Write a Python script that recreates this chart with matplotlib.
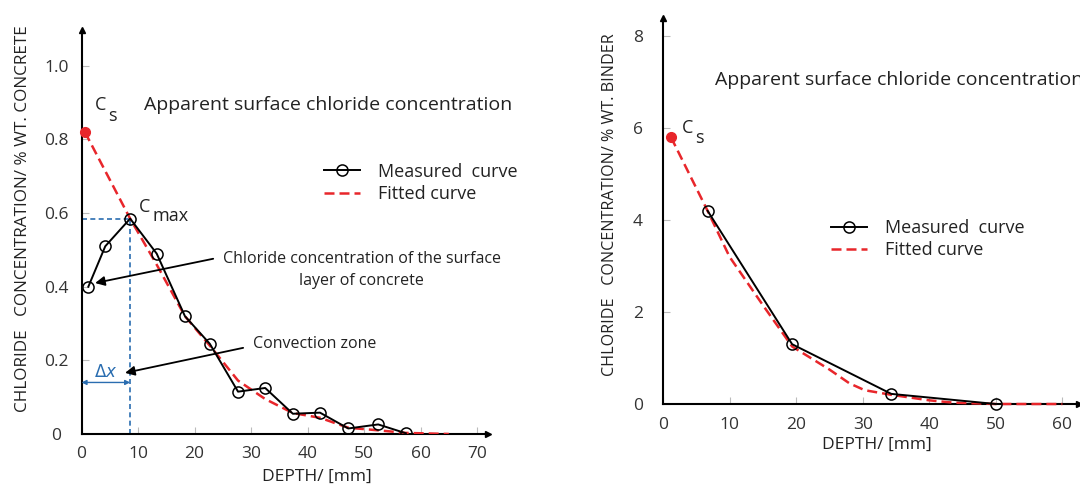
import matplotlib
matplotlib.use("Agg")
import matplotlib.pyplot as plt

plt.rcParams['font.family'] = ['Open Sans', 'DejaVu Sans']

# Datos - perfil en hormigón (izquierda)
meas_depth_l = [1.2, 4.2, 8.6, 13.3, 18.3, 22.7, 27.7, 32.5, 37.4, 42.2, 47.2, 52.5, 57.4]
meas_conc_l = [0.40, 0.51, 0.585, 0.49, 0.32, 0.245, 0.115, 0.125, 0.055, 0.058, 0.015, 0.026, 0.002]
fit_depth_l = [0.6, 8.6, 13.3, 18.3, 22.7, 27.7, 32.5, 37.4, 42.2, 47.2, 52.5, 57.4, 65]
fit_conc_l = [0.82, 0.585, 0.46, 0.32, 0.24, 0.145, 0.095, 0.057, 0.044, 0.017, 0.01, 0.003, 0.0]
cs_l = (0.6, 0.82)
xticks_l = [0, 10, 20, 30, 40, 50, 60, 70]
yticks_l = [0, 0.2, 0.4, 0.6, 0.8, 1.0]
ylabels_l = ['0', '0.2', '0.4', '0.6', '0.8', '1.0']

# Datos - perfil en ligante (derecha)
meas_depth_r = [6.7, 19.4, 34.3, 50]
meas_conc_r = [4.2, 1.3, 0.22, 0.0]
fit_depth_r = [1.2, 6.7, 10, 15, 19.4, 25, 28, 30.3, 34.3, 40, 43.6, 50, 60]
fit_conc_r = [5.8, 4.2, 3.2, 2.15, 1.25, 0.75, 0.45, 0.3, 0.2, 0.08, 0.03, 0.0, 0.0]
cs_r = (1.2, 5.8)
xticks_r = [0, 10, 20, 30, 40, 50, 60]
yticks_r = [0, 2, 4, 6, 8]

RED = '#e8262b'
BLUE = '#2a6db0'
TXT = '#222222'


def style_axes(ax, xticks, yticks, ylabels=None):
    for s in ['top', 'right']:
        ax.spines[s].set_visible(False)
    for s in ['left', 'bottom']:
        ax.spines[s].set_linewidth(1.5)
        ax.spines[s].set_color('black')
    ax.set_xticks(xticks)
    ax.set_yticks(yticks)
    if ylabels is not None:
        ax.set_yticklabels(ylabels)
    ax.tick_params(direction='in', length=5, width=0.8, color='#bbbbbb',
                   labelcolor='#333333', labelsize=12.5)
    ax.tick_params(axis='x', pad=9)
    ax.tick_params(axis='y', pad=18)
    for lab in ax.get_yticklabels():
        lab.set_horizontalalignment('center')
    # flechas al final de los ejes
    ax.plot(1, 0, '>k', ms=5, transform=ax.transAxes, clip_on=False)
    ax.plot(0, 1, '^k', ms=5, transform=ax.transAxes, clip_on=False)


def legend(ax, anchor):
    h, l = ax.get_legend_handles_labels()
    ax.legend(h[::-1], l[::-1], loc='upper left', bbox_to_anchor=anchor, frameon=False,
              fontsize=13, handlelength=2.0, handletextpad=1.0, labelspacing=0.25,
              labelcolor=TXT)


fig = plt.figure(figsize=(10.8, 4.86), dpi=100)

# ---- Grafico izquierdo ----
ax1 = fig.add_axes([0.0755, 0.107, 0.3767, 0.831])
ax1.set_xlim(0, 72)
ax1.set_ylim(0, 1.097)
style_axes(ax1, xticks_l, yticks_l, ylabels_l)

# lineas auxiliares de Cmax
cx, cy = meas_depth_l[2], meas_conc_l[2]
ax1.plot([0, cx], [cy, cy], color=BLUE, lw=1.2, dashes=(3, 2))
ax1.plot([cx, cx], [0, cy], color=BLUE, lw=1.2, dashes=(3, 2))
ax1.annotate('', xy=(0, 0.14), xytext=(cx, 0.14),
             arrowprops=dict(arrowstyle='<|-|>', color=BLUE, lw=1.0, mutation_scale=7,
                             shrinkA=0, shrinkB=0))
ax1.text(cx / 2, 0.166, r'$\Delta x$', color=BLUE, fontsize=12, ha='center', va='center')

ax1.plot(fit_depth_l, fit_conc_l, color=RED, lw=1.8, dashes=(4, 2),
         label='Fitted curve', zorder=3)
ax1.plot(meas_depth_l, meas_conc_l, '-o', color='black', lw=1.4, ms=8,
         mfc='none', mew=1.1, label='Measured  curve', zorder=4)
ax1.plot(*cs_l, 'o', color=RED, ms=7, clip_on=False, zorder=5)

ax1.text(3.3, 0.893, 'C', fontsize=13, color=TXT, ha='center', va='center')
ax1.text(5.4, 0.863, 's', fontsize=13, color=TXT, ha='center', va='center')
ax1.text(11.1, 0.893, 'Apparent surface chloride concentration', fontsize=14,
         color=TXT, ha='left', va='center')
ax1.text(11.2, 0.616, 'C', fontsize=13, color=TXT, ha='center', va='center')
ax1.text(15.7, 0.593, 'max', fontsize=13, color=TXT, ha='center', va='center')

ax1.annotate('', xy=(2.4, 0.41), xytext=(23.3, 0.476),
             arrowprops=dict(arrowstyle='-|>', color='black', lw=1.3, mutation_scale=14,
                             shrinkA=0, shrinkB=0))
ax1.text(49.6, 0.446, 'Chloride concentration of the surface\nlayer of concrete',
         fontsize=11.5, color=TXT, ha='center', va='center', linespacing=1.5)
ax1.annotate('', xy=(7.7, 0.166), xytext=(28.6, 0.234),
             arrowprops=dict(arrowstyle='-|>', color='black', lw=1.3, mutation_scale=14,
                             shrinkA=0, shrinkB=0))
ax1.text(30.4, 0.245, 'Convection zone', fontsize=11.5, color=TXT, ha='left', va='center')

legend(ax1, (0.555, 0.712))

fig.text(0.021, 0.551, 'CHLORIDE   CONCENTRATION/ % WT. CONCRETE', rotation=90,
         fontsize=12.3, color=TXT, ha='center', va='center')
fig.text(0.293, 0.019, 'DEPTH/ [mm]', fontsize=12.5, color=TXT, ha='center', va='center')

# ---- Grafico derecho ----
ax2 = fig.add_axes([0.6139, 0.1687, 0.3852, 0.794])
ax2.set_xlim(0, 62.5)
ax2.set_ylim(0, 8.39)
style_axes(ax2, xticks_r, yticks_r)

ax2.plot(fit_depth_r, fit_conc_r, color=RED, lw=1.8, dashes=(4, 2),
         label='Fitted curve', zorder=3, clip_on=False)
ax2.plot(meas_depth_r, meas_conc_r, '-o', color='black', lw=1.4, ms=8,
         mfc='none', mew=1.1, label='Measured  curve', zorder=4, clip_on=False)
ax2.plot(*cs_r, 'o', color=RED, ms=7, clip_on=False, zorder=5)

ax2.text(3.75, 6.0, 'C', fontsize=13, color=TXT, ha='center', va='center')
ax2.text(5.4, 5.78, 's', fontsize=13, color=TXT, ha='center', va='center')
# en la figura original este texto queda cortado por el borde derecho
ax2.text(7.8, 7.04, 'Apparent surface chloride concentration', fontsize=14,
         color=TXT, ha='left', va='center')

legend(ax2, (0.365, 0.522))

fig.text(0.565, 0.578, 'CHLORIDE   CONCENTRATION/ % WT. BINDER', rotation=90,
         fontsize=11.6, color=TXT, ha='center', va='center')
fig.text(0.812, 0.084, 'DEPTH/ [mm]', fontsize=12.5, color=TXT, ha='center', va='center')

fig.savefig('out.png', dpi=100, facecolor='white')
